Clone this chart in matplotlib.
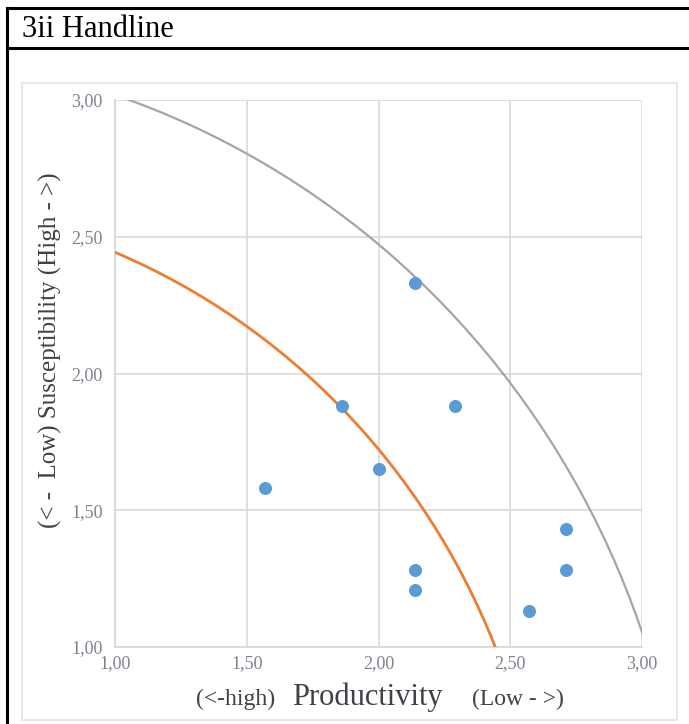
import matplotlib
matplotlib.use("Agg")
import matplotlib.pyplot as plt
from matplotlib.patches import Arc, Rectangle
from matplotlib.lines import Line2D

# PSA scores per species (productivity, susceptibility)
productivity = [2.14, 1.57, 1.86, 2.00, 2.29, 2.14, 2.14, 2.57, 2.71, 2.71]
susceptibility = [2.33, 1.58, 1.88, 1.65, 1.88, 1.28, 1.21, 1.13, 1.43, 1.28]

# vulnerability thresholds (distance from origin)
low_threshold = 2.64
high_threshold = 3.18

tick_values = [1.0, 1.5, 2.0, 2.5, 3.0]
tick_labels = ["1,00", "1,50", "2,00", "2,50", "3,00"]

plt.rcParams["font.family"] = ["Liberation Serif", "DejaVu Serif"]

W, H = 689, 724
fig = plt.figure(figsize=(W / 100, H / 100), dpi=100)

# table cell borders
lw_table = 2.2
fig.add_artist(Line2D([6.5 / W, 1], [1 - 8 / H, 1 - 8 / H], color="black", lw=lw_table))
fig.add_artist(Line2D([6.5 / W, 1], [1 - 48 / H, 1 - 48 / H], color="black", lw=lw_table))
fig.add_artist(Line2D([6.5 / W, 6.5 / W], [0, 1 - 8 / H], color="black", lw=lw_table))
fig.text(22 / W, 1 - 37 / H, "3ii Handline", fontsize=22, color="black", va="baseline", ha="left")

# chart frame
fig.add_artist(Rectangle((22 / W, 1 - 720 / H), (677 - 22) / W, (720 - 83) / H,
                         transform=fig.transFigure, fill=False, edgecolor="#e3e3e3", lw=1.2))

ax = fig.add_axes([115 / W, 1 - 647 / H, (642 - 115) / W, (647 - 100) / H])
ax.set_xlim(1, 3)
ax.set_ylim(1, 3)
ax.set_xticks(tick_values)
ax.set_xticklabels(tick_labels)
ax.set_yticks(tick_values)
ax.set_yticklabels(tick_labels)
ax.tick_params(length=0, labelsize=13, labelcolor="#7d828c")
ax.tick_params(axis="x", pad=6)
ax.tick_params(axis="y", pad=9)
ax.grid(True, color="#dcdcdc", lw=1.3)
ax.set_axisbelow(True)
for side in ["top", "right"]:
    ax.spines[side].set_visible(False)
for side in ["left", "bottom"]:
    ax.spines[side].set_color("#d9d9d9")
    ax.spines[side].set_linewidth(1.3)

ax.add_patch(Arc((0, 0), 2 * high_threshold, 2 * high_threshold, theta1=0, theta2=90,
                 color="#a5a5a5", lw=1.6, zorder=3))
ax.add_patch(Arc((0, 0), 2 * low_threshold, 2 * low_threshold, theta1=0, theta2=90,
                 color="#ed7d31", lw=2.0, zorder=3))
ax.scatter(productivity, susceptibility, s=70, color="#5b9bd5", zorder=4, clip_on=False)

# axis titles
label_color = "#404048"
fig.text(50 / W, 1 - 350 / H, "(< -  Low) Susceptibility (High - >)", rotation=90,
         fontsize=18, color=label_color, ha="center", va="center")
base = 1 - 705 / H
fig.text(236 / W, base, "(<-high)", fontsize=17, color=label_color, ha="center", va="baseline")
fig.text(367 / W, base, "Productivity", fontsize=22, color=label_color, ha="center", va="baseline")
fig.text(518 / W, base, "(Low - >)", fontsize=17, color=label_color, ha="center", va="baseline")

fig.savefig("out.png", dpi=100)
